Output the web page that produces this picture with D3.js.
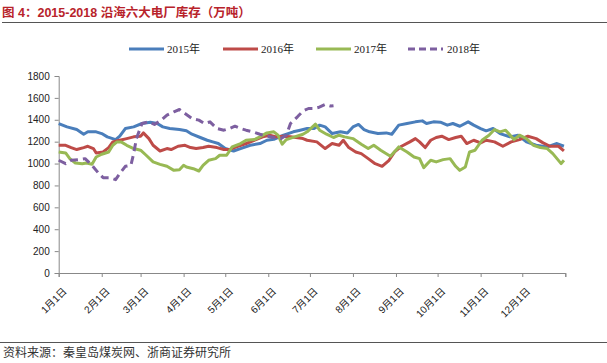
<!DOCTYPE html>
<html>
<head>
<meta charset="utf-8">
<script src="https://cdn.jsdelivr.net/npm/d3@7"></script>
<style>
  body { margin: 0; background: #fff; }
  svg { display: block; }
</style>
</head>
<body>
<svg id="chart" width="607" height="363"></svg>
<script>
// day of year -> value
const s2015 = [[0,1365],[6,1335],[13,1311],[18,1268],[21,1290],[27,1290],[31,1274],[35,1244],[41,1219],[44,1250],[48,1320],[54,1335],[60,1366],[66,1378],[71,1366],[75,1335],[80,1320],[87,1311],[92,1299],[96,1268],[102,1238],[107,1213],[111,1198],[115,1183],[120,1137],[126,1115],[131,1137],[138,1167],[145,1183],[150,1213],[155,1222],[162,1259],[169,1290],[174,1305],[179,1320],[184,1320],[188,1351],[192,1335],[197,1274],[203,1290],[208,1280],[212,1335],[216,1357],[220,1311],[224,1290],[230,1274],[236,1280],[240,1268],[245,1351],[251,1366],[257,1381],[262,1390],[265,1366],[270,1381],[275,1378],[280,1351],[284,1366],[289,1341],[295,1381],[299,1351],[304,1320],[308,1299],[313,1320],[318,1274],[325,1244],[331,1259],[337,1198],[344,1167],[352,1152],[359,1183],[364,1158]];
const s2016 = [[0,1167],[5,1167],[9,1146],[13,1128],[18,1146],[21,1158],[25,1137],[27,1097],[32,1106],[36,1146],[39,1198],[44,1213],[49,1228],[54,1244],[59,1250],[61,1280],[65,1228],[68,1167],[73,1115],[78,1137],[81,1128],[86,1158],[91,1167],[95,1146],[99,1137],[104,1146],[108,1158],[114,1146],[119,1128],[123,1128],[128,1152],[135,1183],[140,1207],[147,1244],[152,1259],[157,1244],[162,1250],[167,1244],[171,1238],[176,1228],[179,1213],[186,1198],[192,1137],[197,1183],[202,1167],[205,1213],[209,1146],[214,1106],[218,1091],[223,1045],[228,999],[233,975],[238,1030],[242,1106],[247,1158],[253,1198],[257,1228],[260,1198],[264,1146],[268,1213],[272,1238],[276,1250],[281,1219],[286,1238],[290,1250],[294,1183],[299,1213],[304,1189],[308,1213],[314,1198],[320,1158],[326,1198],[332,1219],[338,1250],[344,1228],[349,1189],[354,1158],[360,1158],[364,1115]];
const s2017 = [[0,1106],[5,1097],[8,1045],[12,1005],[17,999],[20,1005],[24,993],[27,1060],[31,1085],[36,1106],[39,1167],[42,1198],[45,1198],[49,1167],[54,1137],[59,1122],[63,1076],[68,1015],[73,993],[78,975],[83,938],[87,944],[90,984],[92,969],[97,953],[101,932],[104,984],[108,1030],[113,1045],[116,1076],[121,1076],[125,1152],[131,1183],[135,1213],[141,1219],[145,1244],[150,1280],[155,1290],[158,1259],[161,1177],[164,1219],[170,1244],[176,1268],[179,1290],[185,1360],[188,1305],[193,1268],[198,1238],[202,1259],[206,1244],[212,1228],[218,1177],[223,1137],[227,1167],[232,1122],[239,1067],[245,1152],[251,1106],[256,1060],[260,1045],[263,963],[268,1030],[272,1015],[277,1036],[282,1045],[286,975],[289,938],[293,969],[296,1106],[300,1122],[305,1213],[310,1259],[314,1311],[318,1290],[322,1305],[328,1219],[332,1259],[337,1228],[342,1167],[347,1146],[352,1137],[356,1091],[362,999],[364,1030]];
const s2018 = [[0,1030],[5,999],[9,1030],[14,1036],[19,1045],[24,984],[29,908],[32,871],[37,871],[41,853],[44,908],[48,975],[52,984],[54,1091],[56,1228],[60,1366],[65,1381],[69,1357],[74,1397],[78,1442],[83,1473],[87,1494],[91,1458],[96,1412],[101,1397],[105,1366],[109,1381],[114,1320],[119,1305],[123,1320],[127,1341],[131,1320],[135,1305],[140,1290],[145,1268],[150,1250],[155,1238],[160,1228],[164,1259],[167,1366],[172,1427],[176,1480],[180,1503],[184,1503],[187,1512],[192,1540],[196,1525],[198,1528]];

const seriesNames = ["2015年", "2016年", "2017年", "2018年"];
const seriesData = [s2015, s2016, s2017, s2018];
const monthLabels = ["1月1日","2月1日","3月1日","4月1日","5月1日","6月1日","7月1日","8月1日","9月1日","10月1日","11月1日","12月1日"];
const yTicks = [0, 200, 400, 600, 800, 1000, 1200, 1400, 1600, 1800];

const colors = ["#4a7ebb", "#be4b48", "#98b954", "#7d5fa0"];
const cjk = "'Liberation Sans', Arial, 'Noto Sans CJK SC', sans-serif";

const svg = d3.select("#chart");
const dayToDate = d => new Date(Date.UTC(2015, 0, 1 + d));

const x = d3.scaleUtc()
    .domain([dayToDate(0), dayToDate(365)])
    .range([58.7, 565.3]);
const y = d3.scaleLinear().domain([0, 1800]).range([273, 76]);

// title
svg.append("text")
    .attr("x", 2).attr("y", 17)
    .attr("fill", "#b8232b")
    .style("font", "bold 12.5px " + cjk)
    .text("图 4：2015-2018 沿海六大电厂库存（万吨）");
svg.append("line").attr("x1", 2).attr("x2", 607).attr("y1", 22.5).attr("y2", 22.5)
    .attr("stroke", "#555").attr("stroke-width", 1);

// footer
svg.append("line").attr("x1", 0).attr("x2", 607).attr("y1", 342.5).attr("y2", 342.5)
    .attr("stroke", "#555").attr("stroke-width", 1);
svg.append("text")
    .attr("x", 3).attr("y", 357)
    .attr("fill", "#333")
    .style("font", "12px 'Noto Sans CJK SC', sans-serif")
    .text("资料来源：秦皇岛煤炭网、浙商证券研究所");

// y axis
const yAxis = svg.append("g")
    .attr("transform", "translate(58.7,0)")
    .call(d3.axisLeft(y).tickValues(yTicks).tickSize(4).tickPadding(5).tickFormat(d3.format("d")));
yAxis.select(".domain").attr("stroke", "#888");
yAxis.selectAll(".tick line").attr("stroke", "#888");
yAxis.selectAll("text").attr("fill", "#222").style("font", "10px 'Liberation Sans', Arial, sans-serif");

// x axis
const monthDates = d3.range(12).map(m => new Date(Date.UTC(2015, m, 1)));
const xAxis = svg.append("g")
    .attr("transform", "translate(0,273)")
    .call(d3.axisBottom(x)
        .tickValues(monthDates.concat([dayToDate(365)]))
        .tickSize(4)
        .tickFormat((d, i) => monthLabels[i] || ""));
xAxis.select(".domain").attr("stroke", "#888");
xAxis.selectAll(".tick line").attr("stroke", "#888");
xAxis.selectAll(".tick text")
    .attr("fill", "#222")
    .style("font", "10px " + cjk)
    .attr("text-anchor", "end")
    .attr("dy", 0)
    .attr("transform", "translate(8,19) rotate(-45)")
    .attr("y", 0).attr("x", 0);

// lines
const line = d3.line()
    .x(d => x(dayToDate(d[0])))
    .y(d => y(d[1]));

seriesData.forEach((s, i) => {
    svg.append("path")
        .datum(s)
        .attr("fill", "none")
        .attr("stroke", colors[i])
        .attr("stroke-width", 3)
        .attr("stroke-linejoin", "round")
        .attr("stroke-dasharray", i === 3 ? "8,5" : null)
        .attr("d", line);
});

// legend
const legendX = [129, 223, 316, 408];
const legend = svg.append("g").attr("transform", "translate(0,49)");
seriesNames.forEach((name, i) => {
    legend.append("line")
        .attr("x1", legendX[i]).attr("x2", legendX[i] + 35)
        .attr("y1", 0).attr("y2", 0)
        .attr("stroke", colors[i]).attr("stroke-width", 3)
        .attr("stroke-dasharray", i === 3 ? "7,4" : null);
    legend.append("text")
        .attr("x", legendX[i] + (i === 3 ? 39 : 38)).attr("y", 4)
        .attr("fill", "#222")
        .style("font", "11px 'Liberation Serif', 'Noto Sans CJK SC', serif")
        .text(name);
});
</script>
</body>
</html>
